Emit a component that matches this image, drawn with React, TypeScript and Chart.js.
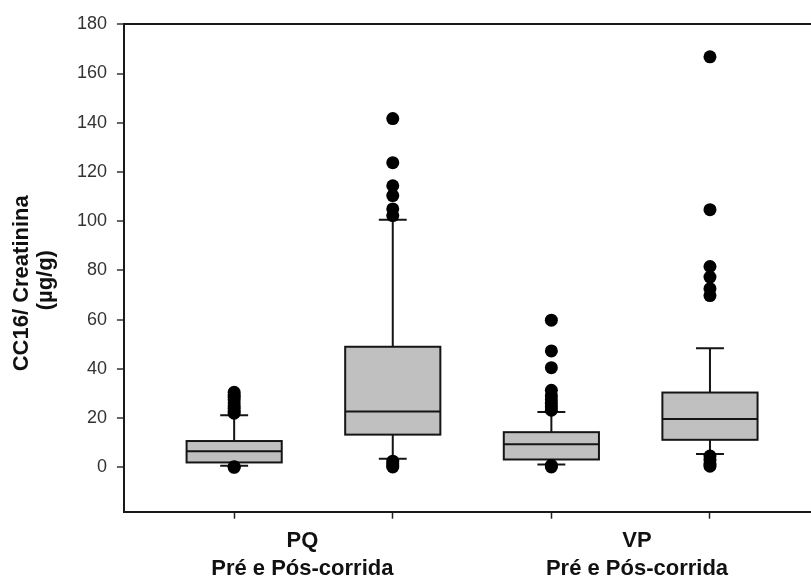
import React, { useEffect, useRef } from 'react';
import { Chart, registerables } from 'chart.js';

Chart.register(...registerables);

// ---- data ----
const categories = ['PQ Pré-corrida', 'PQ Pós-corrida', 'VP Pré-corrida', 'VP Pós-corrida'];
const positions = [1, 2, 3, 4];
const q1 = [2.0, 13.3, 3.2, 11.2];
const median = [6.5, 22.7, 9.4, 19.7];
const q3 = [10.7, 49.0, 14.3, 30.4];
const whiskerLow = [0.7, 3.5, 1.2, 5.4];
const whiskerHigh = [21.2, 100.6, 22.5, 48.4];
const outliersPQPre = [30.5, 29.5, 28.5, 27.5, 26.2, 25.0, 24.0, 23.0, 22.0, 0.3, 0.0];
const outliersPQPos = [141.7, 123.8, 114.4, 110.4, 105.0, 102.3, 2.5, 1.5, 0.7, 0.2];
const outliersVPPre = [59.8, 47.3, 40.5, 31.3, 29.0, 27.5, 26.0, 24.5, 23.2, 0.8, 0.2];
const outliersVPPos = [166.8, 104.7, 81.6, 77.3, 72.6, 69.8, 4.6, 3.0, 1.5, 0.5];
const outliers = [outliersPQPre, outliersPQPos, outliersVPPre, outliersVPPos];
const groupLabels = [['PQ', 'Pré e Pós-corrida'], ['VP', 'Pré e Pós-corrida']];
const groupLabelPos = [1.43, 3.54];
const yTicks = [0, 20, 40, 60, 80, 100, 120, 140, 160, 180];
const yTitle = ['CC16/ Creatinina', '(µg/g)'];

const FONT = '"Liberation Sans", Arial, Helvetica, sans-serif';
const BOX_HALF = 0.3;
const CAP_HALF = 0.088;

const boxPlugin = {
  id: 'boxes',
  beforeDatasetsDraw(chart: any) {
    const { ctx, scales } = chart;
    const x = scales.x;
    const y = scales.y;
    ctx.save();
    ctx.strokeStyle = '#151515';
    ctx.lineWidth = 2;
    positions.forEach((p, i) => {
      const xc = x.getPixelForValue(p);
      const xl = x.getPixelForValue(p - BOX_HALF);
      const xr = x.getPixelForValue(p + BOX_HALF);
      const cl = x.getPixelForValue(p - CAP_HALF);
      const cr = x.getPixelForValue(p + CAP_HALF);
      const yq1 = y.getPixelForValue(q1[i]);
      const yq3 = y.getPixelForValue(q3[i]);
      const ym = y.getPixelForValue(median[i]);
      const ylo = y.getPixelForValue(whiskerLow[i]);
      const yhi = y.getPixelForValue(whiskerHigh[i]);
      ctx.beginPath();
      ctx.moveTo(xc, yq3); ctx.lineTo(xc, yhi);
      ctx.moveTo(cl, yhi); ctx.lineTo(cr, yhi);
      ctx.moveTo(xc, yq1); ctx.lineTo(xc, ylo);
      ctx.moveTo(cl, ylo); ctx.lineTo(cr, ylo);
      ctx.stroke();
      ctx.fillStyle = '#c0c0c0';
      ctx.fillRect(xl, yq3, xr - xl, yq1 - yq3);
      ctx.strokeRect(xl, yq3, xr - xl, yq1 - yq3);
      ctx.beginPath();
      ctx.moveTo(xl, ym); ctx.lineTo(xr, ym);
      ctx.stroke();
    });
    ctx.restore();
  },
};

export default function App() {
  const ref = useRef<HTMLCanvasElement | null>(null);
  useEffect(() => {
    document.body.style.margin = '0';
    const canvas = ref.current;
    if (!canvas) return;
    const points: { x: number; y: number }[] = [];
    outliers.forEach((arr, i) => arr.forEach((v) => points.push({ x: positions[i], y: v })));
    const chart = new Chart(canvas, {
      type: 'scatter',
      data: {
        datasets: [
          {
            label: 'outliers',
            data: points,
            pointRadius: 6.5,
            pointHoverRadius: 6.5,
            backgroundColor: '#000',
            borderWidth: 0,
            clip: false,
          },
        ],
      },
      plugins: [boxPlugin],
      options: {
        animation: false,
        responsive: false,
        events: [],
        layout: { autoPadding: false, padding: { left: 10, right: 0, top: 24.3, bottom: -12.4 } },
        plugins: { legend: { display: false }, tooltip: { enabled: false } },
        scales: {
          x: {
            type: 'linear',
            min: 0.305,
            max: 4.637,
            afterBuildTicks: (scale: any) => {
              const vals = [...positions, ...groupLabelPos].sort((a, b) => a - b);
              scale.ticks = vals.map((v) => ({ value: v }));
            },
            grid: {
              display: true,
              drawOnChartArea: false,
              drawTicks: true,
              tickLength: 7,
              tickWidth: 1.5,
              tickColor: (c: any) => (c.tick && positions.includes(c.tick.value) ? '#222' : 'rgba(0,0,0,0)'),
            },
            border: { display: true, color: '#1a1a1a', width: 2 },
            ticks: {
              autoSkip: false,
              maxRotation: 0,
              padding: 8.2,
              color: '#111',
              font: { family: FONT, size: 22, weight: 'bold', lineHeight: 1.28 },
              callback: (value: any) => {
                const gi = groupLabelPos.indexOf(Number(value));
                return gi >= 0 ? groupLabels[gi] : '';
              },
            },
          },
          y: {
            type: 'linear',
            min: -18,
            max: 180,
            afterBuildTicks: (scale: any) => {
              scale.ticks = yTicks.map((v) => ({ value: v }));
            },
            grid: {
              display: true,
              drawOnChartArea: true,
              drawTicks: true,
              tickLength: 7,
              tickWidth: 1.5,
              tickColor: '#333',
              lineWidth: 2,
              color: (c: any) => (c.tick && c.tick.value === 180 ? '#1a1a1a' : 'rgba(0,0,0,0)'),
            },
            border: { display: true, color: '#1a1a1a', width: 2 },
            ticks: {
              padding: 10,
              color: '#333',
              font: { family: FONT, size: 18 },
            },
            title: {
              display: true,
              text: [yTitle[0] + '     ', yTitle[1] + '    '],
              color: '#111',
              font: { family: FONT, size: 22, weight: 'bold', lineHeight: 1.1 },
              padding: { top: 0, bottom: 8.5 },
            },
          },
        },
      },
    });
    return () => chart.destroy();
  }, []);
  return <canvas ref={ref} width={811} height={579} style={{ display: 'block' }} aria-label={categories.join(', ')} />;
}
